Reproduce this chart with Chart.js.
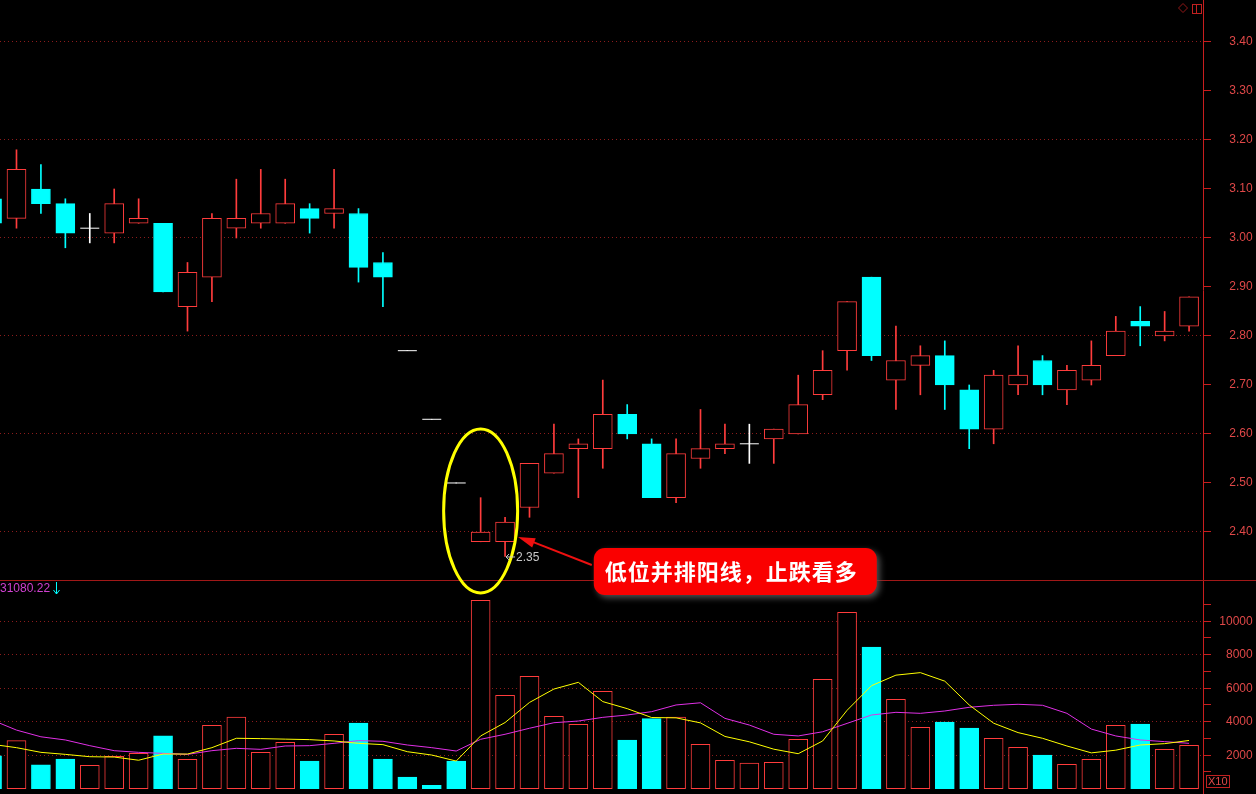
<!DOCTYPE html>
<html>
<head>
<meta charset="utf-8">
<script src="https://cdn.jsdelivr.net/npm/chart.js@4.4.1/dist/chart.umd.min.js"></script>
<style>
  html, body { margin: 0; padding: 0; background: #000; overflow: hidden; }
  #wrap { position: relative; width: 1256px; height: 794px; }
</style>
</head>
<body>
<div id="wrap"><canvas id="kline" width="1256" height="794"></canvas></div>
<script>
// daily bars, oldest first (index 0 is cut off at the left edge)
const openP  = [3.08, 3.04, 3.10, 3.07, 3.02, 3.01, 3.03, 3.03, 2.86, 2.92,
                3.02, 3.03, 3.03, 3.06, 3.05, 3.05, 2.95, 2.77, 2.63, 2.50,
                2.38, 2.38, 2.45, 2.52, 2.57, 2.57, 2.64, 2.58, 2.47, 2.55,
                2.57, 2.58, 2.59, 2.60, 2.68, 2.77, 2.92, 2.71, 2.74, 2.76,
                2.69, 2.61, 2.70, 2.75, 2.69, 2.71, 2.76, 2.83, 2.80, 2.82];
const highP  = [3.09, 3.18, 3.15, 3.08, 3.05, 3.10, 3.08, 3.03, 2.95, 3.05,
                3.12, 3.14, 3.12, 3.07, 3.14, 3.06, 2.97, 2.77, 2.63, 2.50,
                2.47, 2.43, 2.54, 2.62, 2.59, 2.71, 2.66, 2.59, 2.59, 2.65,
                2.62, 2.62, 2.61, 2.72, 2.77, 2.87, 2.92, 2.82, 2.78, 2.79,
                2.70, 2.73, 2.78, 2.76, 2.74, 2.79, 2.84, 2.86, 2.85, 2.88];
const lowP   = [3.02, 3.02, 3.05, 2.98, 2.99, 2.99, 3.03, 2.89, 2.81, 2.87,
                3.00, 3.02, 3.03, 3.01, 3.02, 2.91, 2.86, 2.77, 2.63, 2.50,
                2.38, 2.35, 2.43, 2.52, 2.47, 2.53, 2.59, 2.47, 2.46, 2.53,
                2.56, 2.54, 2.54, 2.60, 2.67, 2.73, 2.75, 2.65, 2.68, 2.65,
                2.57, 2.58, 2.68, 2.68, 2.66, 2.70, 2.76, 2.78, 2.79, 2.81];
const closeP = [3.03, 3.14, 3.07, 3.01, 3.02, 3.07, 3.04, 2.89, 2.93, 3.04,
                3.04, 3.05, 3.07, 3.04, 3.06, 2.94, 2.92, 2.77, 2.63, 2.50,
                2.40, 2.42, 2.54, 2.56, 2.58, 2.64, 2.60, 2.47, 2.56, 2.57,
                2.58, 2.58, 2.61, 2.66, 2.73, 2.87, 2.76, 2.75, 2.76, 2.70,
                2.61, 2.72, 2.72, 2.70, 2.73, 2.74, 2.81, 2.82, 2.81, 2.88];

// volume (x10) and its 5 / 10 day averages as drawn
const volume = [1970, 2870, 1420, 1770, 1400, 1930, 2110, 3150, 1760, 3790,
                4280, 2170, 2770, 1650, 3250, 3920, 1770, 700, 200, 1650,
                11250, 5580, 6710, 4320, 3850, 5820, 2910, 4180, 4280, 2650,
                1700, 1530, 1580, 2950, 6530, 10530, 8460, 5340, 3670, 3980,
                3620, 3010, 2470, 2010, 1460, 1760, 3790, 3860, 2350, 2590];
const volMa5 = [2650, 2450, 2170, 2050, 1910, 1890, 1700, 2070, 2070, 2450,
                3010, 2990, 2960, 2930, 2850, 2710, 2630, 2210, 2010, 1650,
                3150, 3950, 5150, 5950, 6350, 5200, 4780, 4250, 4230, 3930,
                3120, 2800, 2360, 2090, 2850, 4680, 6150, 6780, 6930, 6420,
                5000, 3910, 3350, 3010, 2550, 2140, 2300, 2610, 2690, 2880];
const volMa10 = [4100, 3500, 3100, 2910, 2570, 2270, 2170, 2110, 2050, 2270,
                 2410, 2350, 2550, 2570, 2710, 2870, 2830, 2610, 2450, 2250,
                 2950, 3250, 3610, 3940, 4040, 4260, 4400, 4600, 5000, 5130,
                 4200, 3800, 3250, 3150, 3400, 3900, 4400, 4560, 4500, 4640,
                 4860, 4980, 5040, 4980, 4500, 3560, 3150, 2910, 2810, 2710];

const priceTicks = [2.40, 2.50, 2.60, 2.70, 2.80, 2.90, 3.00, 3.10, 3.20, 3.30, 3.40];
const volTicks = [1000, 2000, 3000, 4000, 5000, 6000, 7000, 8000, 9000, 10000, 11000];

const RED = '#ff3c3c', CYAN = '#00ffff', WHITE = '#ffffff';
const AXIS = '#c81e1e', LABEL = '#e04848', GRID = '#8c1c1c';

const idx = openP.map((_, i) => i);
const candleColor = idx.map(i => closeP[i] > openP[i] ? RED : (closeP[i] < openP[i] ? CYAN : WHITE));
const volUp = idx.map(i => closeP[i] !== openP[i] ? closeP[i] > openP[i] : (i > 0 && closeP[i] >= closeP[i - 1]));

const notes = {
    id: 'notes',
    afterDraw(chart) {
        const {ctx, scales: {x, y, yv}} = chart;
        ctx.save();

        // pane separator
        ctx.strokeStyle = '#a01818';
        ctx.lineWidth = 1;
        ctx.beginPath();
        ctx.moveTo(0, yv.top + 0.5);
        ctx.lineTo(chart.width, yv.top + 0.5);
        ctx.stroke();

        // yellow ring round the two small bars
        ctx.strokeStyle = '#ffff00';
        ctx.lineWidth = 3;
        ctx.beginPath();
        ctx.ellipse(x.getPixelForValue(20), y.getPixelForValue(2.443), 37, 82, 0, 0, Math.PI * 2);
        ctx.stroke();

        // low label
        const lx = x.getPixelForValue(21) + 1, ly = y.getPixelForValue(2.35);
        ctx.strokeStyle = '#c8c8c8';
        ctx.fillStyle = '#c8c8c8';
        ctx.lineWidth = 1;
        ctx.beginPath();
        ctx.moveTo(lx, ly + 0.5); ctx.lineTo(lx + 9, ly + 0.5);
        ctx.moveTo(lx + 3, ly - 2.5); ctx.lineTo(lx, ly + 0.5); ctx.lineTo(lx + 3, ly + 3.5);
        ctx.stroke();
        ctx.font = '12px "Liberation Sans", Arial';
        ctx.textBaseline = 'middle';
        ctx.textAlign = 'left';
        ctx.fillText('2.35', lx + 10, ly + 1);

        // callout box
        const bx = x.getPixelForValue(25) - 9, by = yv.top - 32, bw = 283, bh = 47;
        const tipX = x.getPixelForValue(21) + 13, tipY = y.getPixelForValue(2.39);
        const tailX = bx - 2, tailY = by + 17;
        ctx.strokeStyle = '#ee1010';
        ctx.fillStyle = '#ee1010';
        ctx.lineWidth = 2;
        ctx.beginPath();
        ctx.moveTo(tailX, tailY);
        ctx.lineTo(tipX + 12, tipY + 4);
        ctx.stroke();
        const ang = Math.atan2(tailY - tipY, tailX - tipX);
        ctx.beginPath();
        ctx.moveTo(tipX, tipY);
        ctx.lineTo(tipX + 17 * Math.cos(ang) - 5 * Math.sin(ang), tipY + 17 * Math.sin(ang) + 5 * Math.cos(ang));
        ctx.lineTo(tipX + 17 * Math.cos(ang) + 5 * Math.sin(ang), tipY + 17 * Math.sin(ang) - 5 * Math.cos(ang));
        ctx.closePath();
        ctx.fill();

        ctx.save();
        ctx.shadowColor = 'rgba(90,90,90,0.9)';
        ctx.shadowBlur = 6;
        ctx.shadowOffsetX = 3;
        ctx.shadowOffsetY = 3;
        ctx.fillStyle = '#fa0000';
        ctx.beginPath();
        ctx.roundRect(bx, by, bw, bh, 11);
        ctx.fill();
        ctx.restore();

        ctx.fillStyle = '#ffffff';
        ctx.font = 'bold 22px "Noto Sans CJK SC", sans-serif';
        ctx.textAlign = 'center';
        ctx.textBaseline = 'middle';
        ctx.letterSpacing = '1px';
        ctx.fillText('低位并排阳线，止跌看多', bx + bw / 2 - 4, by + bh / 2);
        ctx.letterSpacing = '0px';

        // volume pane caption
        ctx.font = '12px "Liberation Sans", Arial';
        ctx.textAlign = 'left';
        ctx.fillStyle = '#d040d0';
        ctx.fillText('31080.22', 0, yv.top + 9);
        ctx.strokeStyle = CYAN;
        ctx.lineWidth = 1;
        ctx.beginPath();
        ctx.moveTo(56.5, yv.top + 2); ctx.lineTo(56.5, yv.top + 14);
        ctx.moveTo(53.5, yv.top + 10); ctx.lineTo(56.5, yv.top + 14); ctx.lineTo(59.5, yv.top + 10);
        ctx.stroke();

        // X10 tag
        ctx.strokeStyle = '#c02020';
        ctx.strokeRect(1206.5, 775.5, 23, 12);
        ctx.fillStyle = LABEL;
        ctx.font = '11px "Liberation Sans", Arial';
        ctx.fillText('X10', 1208, 782);

        // corner icons
        ctx.strokeStyle = '#901818';
        ctx.beginPath();
        ctx.moveTo(1183, 3.5); ctx.lineTo(1187.5, 8); ctx.lineTo(1183, 12.5); ctx.lineTo(1178.5, 8); ctx.closePath();
        ctx.stroke();
        ctx.strokeStyle = '#c02020';
        ctx.strokeRect(1192.5, 4.5, 9, 9);
        ctx.beginPath();
        ctx.moveTo(1196.5, 4.5); ctx.lineTo(1196.5, 13.5);
        ctx.stroke();

        ctx.restore();
    }
};

const ctx = document.getElementById('kline').getContext('2d');

new Chart(ctx, {
    type: 'bar',
    data: {
        datasets: [
            {
                type: 'line', label: 'MA5', yAxisID: 'yv', order: 0,
                data: idx.map(i => ({x: i, y: volMa5[i]})),
                borderColor: '#ffff00', borderWidth: 1, pointRadius: 0, tension: 0
            },
            {
                type: 'line', label: 'MA10', yAxisID: 'yv', order: 0,
                data: idx.map(i => ({x: i, y: volMa10[i]})),
                borderColor: '#e030e6', borderWidth: 1, pointRadius: 0, tension: 0
            },
            {
                type: 'scatter', label: 'flat', yAxisID: 'y', order: 0,
                data: idx.filter(i => openP[i] === closeP[i]).map(i => ({x: i, y: closeP[i]})),
                pointStyle: 'line', radius: 9.5, hoverRadius: 9.5,
                borderColor: WHITE, borderWidth: 1
            },
            {
                label: 'body', yAxisID: 'y', order: 1,
                data: idx.map(i => ({x: i, y: openP[i] === closeP[i] ? null : [openP[i], closeP[i]]})),
                backgroundColor: idx.map(i => closeP[i] > openP[i] ? '#000' : CYAN),
                borderColor: candleColor,
                borderWidth: 1, borderSkipped: false,
                barThickness: 19, grouped: false
            },
            {
                label: 'wick', yAxisID: 'y', order: 2,
                data: idx.map(i => ({x: i, y: [lowP[i], highP[i]]})),
                backgroundColor: candleColor,
                borderWidth: 0,
                barThickness: 1, grouped: false
            },
            {
                label: 'volume', yAxisID: 'yv', order: 3,
                data: idx.map(i => ({x: i, y: volume[i]})),
                backgroundColor: idx.map(i => volUp[i] ? '#000' : CYAN),
                borderColor: idx.map(i => volUp[i] ? RED : CYAN),
                borderWidth: 1, borderSkipped: false,
                barThickness: 19, grouped: false
            }
        ]
    },
    options: {
        responsive: false,
        animation: false,
        devicePixelRatio: 1,
        events: [],
        layout: { padding: 0, autoPadding: false },
        plugins: {
            legend: { display: false },
            tooltip: { enabled: false }
        },
        scales: {
            x: { type: 'linear', min: 0.325, max: 49.57, display: false, offset: false },
            y: {
                type: 'linear', position: 'right', stack: 'panes', stackWeight: 580,
                min: 2.302, max: 3.4857,
                afterBuildTicks: s => { s.ticks = priceTicks.map(v => ({value: v})); },
                afterFit: s => { s.width = 53; s.paddingTop = 0; s.paddingBottom = 0; },
                ticks: {
                    color: LABEL, font: { family: 'Liberation Sans', size: 12 },
                    crossAlign: 'far', padding: 15, autoSkip: false,
                    callback: v => Number(v).toFixed(2) + ' '
                },
                grid: {
                    color: c => (c.tick && Math.round(c.tick.value * 10) % 2 === 0) ? GRID : 'rgba(0,0,0,0)',
                    tickColor: AXIS, tickLength: 8, tickBorderDash: [], lineWidth: 1
                },
                border: { color: AXIS, width: 1, dash: [1, 3] }
            },
            yv: {
                type: 'linear', position: 'right', stack: 'panes', stackWeight: 214,
                min: -316, max: 12460,
                afterBuildTicks: s => { s.ticks = volTicks.map(v => ({value: v})); },
                afterFit: s => { s.width = 53; s.paddingTop = 0; s.paddingBottom = 0; },
                ticks: {
                    color: LABEL, font: { family: 'Liberation Sans', size: 12 },
                    crossAlign: 'far', padding: 7, autoSkip: false,
                    callback: v => (v % 2000 === 0 ? String(v) + ' ' : '')
                },
                grid: {
                    color: c => (c.tick && c.tick.value % 2000 === 0) ? GRID : 'rgba(0,0,0,0)',
                    tickColor: AXIS, tickLength: 8, tickBorderDash: [], lineWidth: 1
                },
                border: { color: AXIS, width: 1, dash: [1, 3] }
            }
        }
    },
    plugins: [notes]
});
</script>
</body>
</html>
